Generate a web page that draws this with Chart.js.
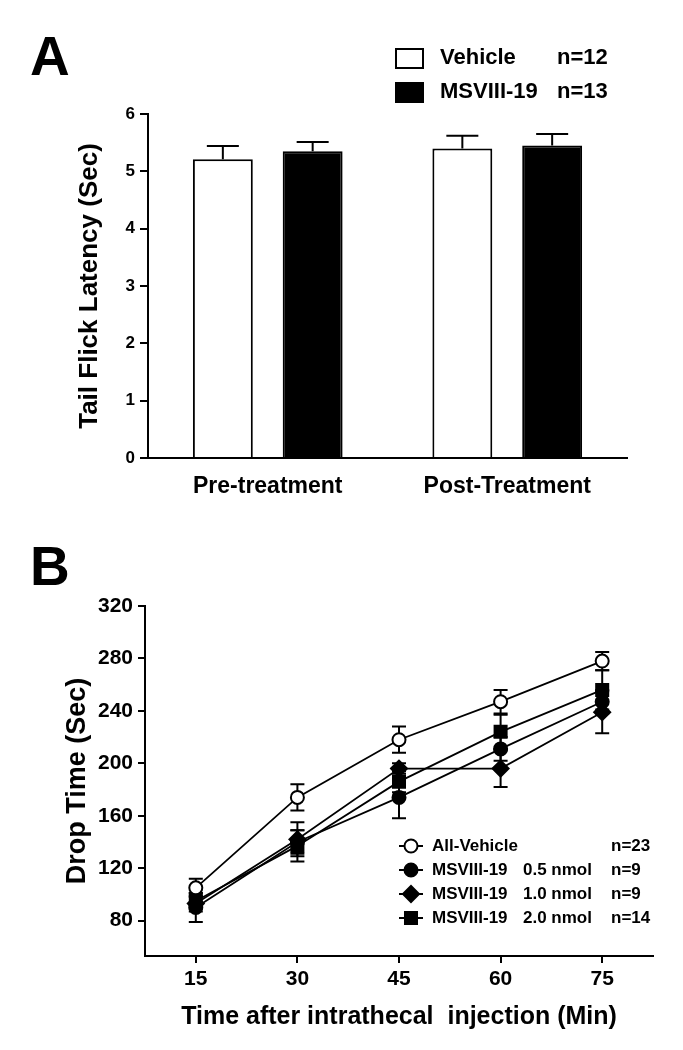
<!DOCTYPE html>
<html>
<head>
<meta charset="utf-8">
<script src="https://cdn.jsdelivr.net/npm/chart.js@4.4.1/dist/chart.umd.min.js"></script>
<style>
body{margin:0;background:#fff;}
#wrap{position:relative;width:683px;height:1050px;}
.panel{position:absolute;left:0;width:683px;}
</style>
</head>
<body>
<div id="wrap">
  <div class="panel" style="top:0;height:520px"><canvas id="chartA" width="683" height="520"></canvas></div>
  <div class="panel" style="top:520px;height:530px"><canvas id="chartB" width="683" height="530"></canvas></div>
</div>
<script>
// Panel A - tail flick latency (mean + SEM)
const groupsA=['Pre-treatment','Post-Treatment'];
const vehicleA=[5.21,5.40];
const vehicleSemA=[0.23,0.22];
const msA=[5.35,5.45];
const msSemA=[0.16,0.20];
const legendA=['Vehicle','MSVIII-19'];
const legendNA=['n=12','n=13'];

// Panel B - drop time over time
const timesB=[15,30,45,60,75];
const yTicksB=[80,120,160,200,240,280,320];
const vehB=[105,174,218,247,278];
const vehErrB=[7,10,10,9,7];
const d05B=[90,140,174,211,247];
const d05ErrB=[11,9,16,9,9];
const d10B=[93,142,196,196,239];
const d10ErrB=[6,13,4,14,16];
const d20B=[95,137,186,224,256];
const d20ErrB=[6,12,8,13,15];
const legendNameB=['All-Vehicle','MSVIII-19','MSVIII-19','MSVIII-19'];
const legendDoseB=['','0.5 nmol','1.0 nmol','2.0 nmol'];
const legendNB=['n=23','n=9','n=9','n=14'];

const FF="'Liberation Sans', Arial, sans-serif";
Chart.defaults.font.family=FF;
Chart.defaults.color='#000';

const bold=(size)=>({family:FF,size:size,weight:'bold'});

// upper error bars on bars
const barErrors={
  id:'barErrors',
  afterDatasetsDraw(chart){
    const ctx=chart.ctx,y=chart.scales.y;
    chart.data.datasets.forEach((ds,i)=>{
      const meta=chart.getDatasetMeta(i);
      meta.data.forEach((bar,j)=>{
        const top=y.getPixelForValue(ds.data[j]+ds.sem[j]);
        ctx.save();
        ctx.strokeStyle='#000';ctx.lineWidth=2;
        ctx.beginPath();
        ctx.moveTo(bar.x,bar.y);ctx.lineTo(bar.x,top);
        ctx.moveTo(bar.x-16,top);ctx.lineTo(bar.x+16,top);
        ctx.stroke();
        ctx.restore();
      });
    });
  }
};

const panelLabel=(txt,x,y)=>({
  id:'panelLabel',
  afterDraw(chart){
    const ctx=chart.ctx;
    ctx.save();
    ctx.fillStyle='#000';
    ctx.font='bold 55px '+FF;
    ctx.textBaseline='alphabetic';
    ctx.fillText(txt,x,y);
    ctx.restore();
  }
});

const legendBoxA={
  id:'legendBoxA',
  afterDraw(chart){
    const ctx=chart.ctx;
    ctx.save();
    ctx.font='bold 22px '+FF;
    ctx.textBaseline='middle';
    chart.data.datasets.forEach((ds,i)=>{
      const cy=58+i*34;
      ctx.fillStyle=ds.backgroundColor;
      ctx.fillRect(396,cy-9,27,19);
      ctx.strokeStyle='#000';ctx.lineWidth=2;
      ctx.strokeRect(396,cy-9,27,19);
      ctx.fillStyle='#000';
      ctx.fillText(legendA[i],440,cy);
      ctx.fillText(legendNA[i],557,cy);
    });
    ctx.restore();
  }
};

new Chart(document.getElementById('chartA'),{
  type:'bar',
  data:{
    labels:groupsA,
    datasets:[
      {label:legendA[0],data:vehicleA,sem:vehicleSemA,backgroundColor:'#ffffff',borderColor:'#000',borderWidth:2},
      {label:legendA[1],data:msA,sem:msSemA,backgroundColor:'#000000',borderColor:'#000',borderWidth:2}
    ]
  },
  options:{
    responsive:false,animation:false,
    categoryPercentage:0.75,barPercentage:0.667,
    layout:{padding:{left:70,right:56,top:114,bottom:0}},
    plugins:{legend:{display:false},tooltip:{enabled:false}},
    scales:{
      x:{
        grid:{display:false,drawTicks:false},
        border:{display:true,color:'#000',width:2},
        ticks:{font:bold(23),color:'#000',padding:15},
        afterFit(s){s.height=62;}
      },
      y:{
        min:0,max:6,
        ticks:{stepSize:1,font:bold(17),color:'#000',padding:5},
        grid:{drawOnChartArea:false,drawTicks:true,tickLength:8,color:'#000',lineWidth:2},
        border:{display:true,color:'#000',width:2},
        title:{display:true,text:'Tail Flick Latency (Sec)',font:bold(26),color:'#000',padding:{top:4,bottom:4}},
        afterFit(s){s.width=78;}
      }
    }
  },
  plugins:[barErrors,legendBoxA,panelLabel('A',30,75)]
});

// error bars for line points, drawn under the markers
const lineErrors={
  id:'lineErrors',
  beforeDatasetsDraw(chart){
    const ctx=chart.ctx,y=chart.scales.y;
    chart.data.datasets.forEach((ds,i)=>{
      const meta=chart.getDatasetMeta(i);
      meta.data.forEach((pt,j)=>{
        const v=ds.data[j].y,e=ds.err[j];
        const hi=y.getPixelForValue(v+e),lo=y.getPixelForValue(v-e);
        ctx.save();
        ctx.strokeStyle='#000';ctx.lineWidth=2;
        ctx.beginPath();
        ctx.moveTo(pt.x,hi);ctx.lineTo(pt.x,lo);
        ctx.moveTo(pt.x-7,hi);ctx.lineTo(pt.x+7,hi);
        ctx.moveTo(pt.x-7,lo);ctx.lineTo(pt.x+7,lo);
        ctx.stroke();
        ctx.restore();
      });
    });
  }
};

const legendLinesB={
  id:'legendLinesB',
  afterDraw(chart){
    const ctx=chart.ctx;
    ctx.save();
    ctx.font='bold 17px '+FF;
    ctx.textBaseline='middle';
    chart.data.datasets.forEach((ds,i)=>{
      const cy=326+i*24;
      ctx.strokeStyle='#000';ctx.lineWidth=2;
      ctx.beginPath();ctx.moveTo(399,cy);ctx.lineTo(423,cy);ctx.stroke();
      ctx.fillStyle=ds.pointBackgroundColor;
      Chart.helpers.drawPoint(ctx,{pointStyle:ds.pointStyle,radius:ds.pointRadius,borderWidth:2,rotation:0},411,cy);
      ctx.fillStyle='#000';
      ctx.fillText(legendNameB[i],432,cy);
      ctx.fillText(legendDoseB[i],523,cy);
      ctx.fillText(legendNB[i],611,cy);
    });
    ctx.restore();
  }
};

const mkLine=(label,data,err,style,radius,fill)=>({
  label,data:data.map((v,i)=>({x:timesB[i],y:v})),err,
  borderColor:'#000',borderWidth:1.8,
  pointStyle:style,pointRadius:radius,pointBorderWidth:2,
  pointBackgroundColor:fill,pointBorderColor:'#000',
  fill:false,tension:0
});

new Chart(document.getElementById('chartB'),{
  type:'line',
  data:{
    datasets:[
      mkLine('All-Vehicle',vehB,vehErrB,'circle',6.5,'#ffffff'),
      mkLine('MSVIII-19 0.5 nmol',d05B,d05ErrB,'circle',6.5,'#000000'),
      mkLine('MSVIII-19 1.0 nmol',d10B,d10ErrB,'rectRot',8,'#000000'),
      mkLine('MSVIII-19 2.0 nmol',d20B,d20ErrB,'rect',8.5,'#000000')
    ]
  },
  options:{
    responsive:false,animation:false,
    layout:{padding:{left:57,right:30,top:86,bottom:0}},
    plugins:{legend:{display:false},tooltip:{enabled:false}},
    scales:{
      x:{
        type:'linear',min:7.5,max:82.5,
        afterBuildTicks(s){s.ticks=timesB.map(v=>({value:v}));},
        ticks:{font:bold(21),color:'#000',padding:4},
        grid:{drawOnChartArea:false,drawTicks:true,tickLength:7,color:'#000',lineWidth:2},
        border:{display:true,color:'#000',width:2},
        title:{display:true,text:'Time after intrathecal  injection (Min)',font:bold(25),color:'#000',padding:{top:4,bottom:18}},
        afterFit(s){s.height=94;}
      },
      y:{
        min:53,max:320,
        afterBuildTicks(s){s.ticks=yTicksB.map(v=>({value:v}));},
        ticks:{font:bold(21),color:'#000',padding:5},
        grid:{drawOnChartArea:false,drawTicks:true,tickLength:7,color:'#000',lineWidth:2},
        border:{display:true,color:'#000',width:2},
        title:{display:true,text:'Drop Time (Sec)',font:bold(27),color:'#000',padding:{top:4,bottom:4}},
        afterFit(s){s.width=88;}
      }
    }
  },
  plugins:[lineErrors,legendLinesB,panelLabel('B',30,65)]
});
</script>
</body>
</html>
